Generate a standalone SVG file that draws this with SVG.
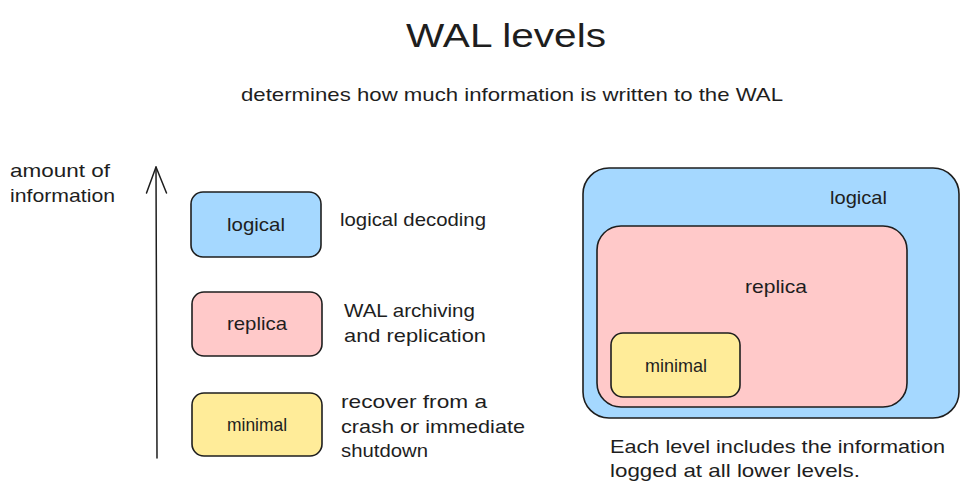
<svg xmlns="http://www.w3.org/2000/svg" width="969" height="495" viewBox="0 0 969 495">
<style>
.t{font-family:"Liberation Sans",Arial,sans-serif;fill:#1e1e1e;font-size:19px}
.box{stroke:#1e1e1e;stroke-width:1.6}
.blue{fill:#a5d8ff}.pink{fill:#ffc9c9}.yellow{fill:#ffec99}
.ln{stroke:#1e1e1e;stroke-width:1.5;fill:none;stroke-linecap:round;stroke-linejoin:round}
</style>
<rect width="969" height="495" fill="#ffffff"/>
<g id="title">
<text class="t" x="406" y="47" style="font-size:34px" textLength="200" lengthAdjust="spacingAndGlyphs">WAL levels</text>
<text class="t" x="241" y="101" textLength="542" lengthAdjust="spacingAndGlyphs">determines how much information is written to the WAL</text>
</g>
<g id="axis-label">
<text class="t" x="10" y="177" textLength="100" lengthAdjust="spacingAndGlyphs">amount of</text>
<text class="t" x="10" y="202" textLength="105" lengthAdjust="spacingAndGlyphs">information</text>
</g>
<g id="connectors">
<line class="ln" x1="157" y1="458" x2="156" y2="167"/>
<polyline class="ln" points="146.5,193 156,167 166.5,193"/>
</g>
<g id="node-logical">
<rect class="box blue" x="191" y="192" width="130" height="65" rx="12"/>
<text class="t" x="227" y="231" textLength="58" lengthAdjust="spacingAndGlyphs">logical</text>
</g>
<g id="node-replica">
<rect class="box pink" x="192" y="292" width="130" height="64" rx="12"/>
<text class="t" x="227" y="330" textLength="60" lengthAdjust="spacingAndGlyphs">replica</text>
</g>
<g id="node-minimal">
<rect class="box yellow" x="192" y="393" width="130" height="63" rx="12"/>
<text class="t" x="227" y="431" textLength="60" lengthAdjust="spacingAndGlyphs">minimal</text>
</g>
<g id="desc-logical">
<text class="t" x="340" y="226" textLength="146" lengthAdjust="spacingAndGlyphs">logical decoding</text>
</g>
<g id="desc-replica">
<text class="t" x="344" y="317" textLength="131" lengthAdjust="spacingAndGlyphs">WAL archiving</text>
<text class="t" x="344" y="342" textLength="142" lengthAdjust="spacingAndGlyphs">and replication</text>
</g>
<g id="desc-minimal">
<text class="t" x="341" y="408" textLength="146" lengthAdjust="spacingAndGlyphs">recover from a</text>
<text class="t" x="341" y="433" textLength="184" lengthAdjust="spacingAndGlyphs">crash or immediate</text>
<text class="t" x="341" y="457" textLength="87" lengthAdjust="spacingAndGlyphs">shutdown</text>
</g>
<g id="set-logical">
<rect class="box blue" x="583" y="168" width="376" height="250" rx="26"/>
<text class="t" x="830" y="204" textLength="57" lengthAdjust="spacingAndGlyphs">logical</text>
</g>
<g id="set-replica">
<rect class="box pink" x="597" y="226" width="310" height="181" rx="24"/>
<text class="t" x="745" y="293" textLength="62" lengthAdjust="spacingAndGlyphs">replica</text>
</g>
<g id="set-minimal">
<rect class="box yellow" x="611" y="333" width="129" height="64" rx="12"/>
<text class="t" x="645" y="372" textLength="62" lengthAdjust="spacingAndGlyphs">minimal</text>
</g>
<g id="note">
<text class="t" x="610" y="453" textLength="335" lengthAdjust="spacingAndGlyphs">Each level includes the information</text>
<text class="t" x="610" y="477" textLength="250" lengthAdjust="spacingAndGlyphs">logged at all lower levels.</text>
</g>
</svg>
